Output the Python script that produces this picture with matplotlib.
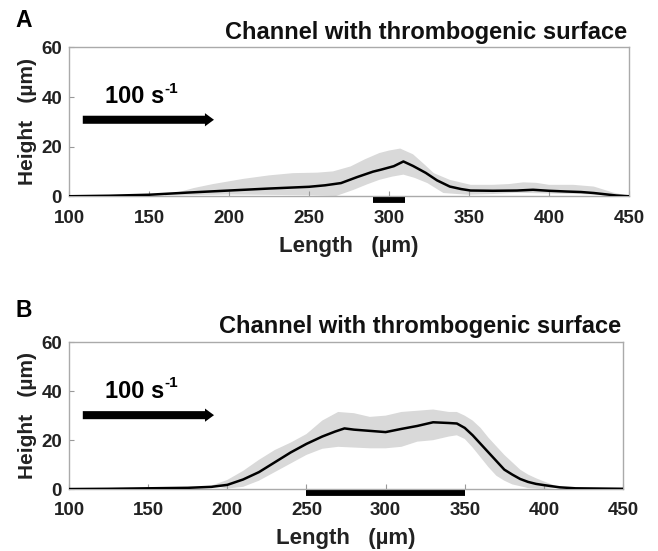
import numpy as np
import matplotlib
matplotlib.use('Agg')
import matplotlib.pyplot as plt
from matplotlib.patches import FancyArrowPatch

plt.rcParams['font.family'] = ['Liberation Sans', 'DejaVu Sans']
plt.rcParams['font.weight'] = 'bold'

# Panel A - mean height profile and spread band
a_x = [100, 125, 150, 175, 200, 225, 250, 260, 270, 280, 290, 295, 303, 309, 315,
       323, 330, 338, 345, 351, 365, 380, 390, 400, 411, 420, 428, 442, 450]
a_y = [0.1, 0.3, 0.7, 1.6, 2.4, 3.2, 3.9, 4.5, 5.4, 7.8, 10.0, 10.8, 12.2, 14.1, 12.3,
       9.5, 6.5, 4.0, 3.0, 2.4, 2.3, 2.4, 2.7, 2.3, 2.0, 1.8, 1.4, 0.4, 0.1]
a_up_x = [160, 170, 178, 190, 209, 225, 240, 255, 265, 276, 285, 294, 300, 307, 315,
          322, 328, 338, 351, 365, 375, 384, 392, 400, 415, 428, 440, 450]
a_up_y = [0.8, 2.0, 3.4, 5.0, 7.1, 8.5, 9.4, 9.6, 10.1, 12.1, 15.0, 17.5, 18.5, 19.3, 17.0,
          13.0, 9.4, 6.7, 4.7, 4.7, 5.0, 5.7, 5.5, 4.7, 4.7, 4.0, 1.6, 0.2]
a_lo_x = [160, 200, 250, 267, 278, 286, 294, 302, 309, 316, 324, 334, 349, 365, 380,
          400, 420, 440, 450]
a_lo_y = [0.4, 0.8, 0.5, 0.2, 2.7, 4.8, 6.7, 8.0, 8.8, 7.5, 5.4, 1.4, 0.7, 1.0, 1.5,
          1.2, 1.0, 0.2, 0.0]
a_bar = [290, 310]

# Panel B
b_x = [100, 125, 150, 175, 190, 200, 210, 220, 230, 240, 250, 260, 268, 274, 280, 290,
       300, 310, 320, 330, 340, 345, 350, 355, 360, 365, 370, 375, 380, 385, 390, 395,
       400, 410, 420, 435, 450]
b_y = [0.1, 0.2, 0.4, 0.6, 1.0, 1.8, 4.0, 7.0, 11.0, 15.0, 18.5, 21.5, 23.5, 24.8, 24.3, 23.8,
       23.3, 24.6, 25.8, 27.3, 27.0, 26.8, 25.0, 22.0, 18.5, 15.0, 11.5, 8.0, 6.0, 4.2, 3.0, 2.2,
       1.7, 0.8, 0.4, 0.3, 0.2]
b_up_x = [190, 200, 210, 220, 230, 240, 250, 260, 270, 280, 290, 300, 310, 320, 330, 340,
          345, 350, 355, 360, 365, 370, 375, 380, 385, 390, 395, 400, 410]
b_up_y = [1.5, 3.8, 7.5, 12.0, 16.0, 19.0, 22.5, 28.0, 31.5, 31.0, 29.5, 30.0, 31.5, 32.0, 32.5, 31.5,
          31.5, 30.0, 28.0, 25.0, 21.0, 17.5, 14.0, 11.0, 8.0, 6.0, 4.5, 3.2, 0.8]
b_lo_x = [200, 210, 220, 230, 240, 250, 260, 270, 280, 290, 300, 310, 320, 330, 340, 345,
          350, 355, 360, 365, 370, 375, 380, 390, 400]
b_lo_y = [0.3, 1.0, 3.5, 7.0, 10.5, 14.0, 16.5, 17.3, 17.0, 16.7, 16.7, 17.3, 19.4, 20.0, 21.5, 22.0,
          20.5, 17.0, 13.0, 9.0, 5.5, 3.5, 2.0, 0.5, 0.1]
b_bar = [250, 350]

x_ticks = [100, 150, 200, 250, 300, 350, 400, 450]
y_ticks = [0, 20, 40, 60]
title = 'Channel with thrombogenic surface'

panels = [
    dict(rect=[0.1049, 0.6434, 0.851, 0.2704], tag='A', tag_y=0.951, title_y=1.057,
         x=a_x, y=a_y, ux=a_up_x, uy=a_up_y, lx=a_lo_x, ly=a_lo_y, bar=a_bar,
         arrow=(108.6, 190.6, 30.9), txt=(122.5, 40.2), ylab_x=-0.057),
    dict(rect=[0.1049, 0.1120, 0.842, 0.2673], tag='B', tag_y=0.4241, title_y=1.062,
         x=b_x, y=b_y, ux=b_up_x, uy=b_up_y, lx=b_lo_x, ly=b_lo_y, bar=b_bar,
         arrow=(108.7, 191.6, 30.2), txt=(122.7, 40.0), ylab_x=-0.058),
]

fig = plt.figure(figsize=(6.58, 5.51), dpi=100)

for p in panels:
    ax = fig.add_axes(p['rect'])
    # spread band as polygon: upper edge then lower edge reversed
    ax.fill(np.r_[p['ux'], p['lx'][::-1]], np.r_[p['uy'], p['ly'][::-1]],
            color='#d9d9d9', lw=0, zorder=1)
    ax.plot(p['x'], p['y'], color='black', lw=1.8, zorder=3)

    ax.set_xlim(100, 450)
    ax.set_ylim(0, 60)
    ax.set_xticks(x_ticks)
    ax.set_yticks(y_ticks)
    ax.tick_params(direction='in', length=3.5, width=0.8, color='#999999',
                   labelsize=13.5, labelcolor='#222222')
    ax.tick_params(axis='x', pad=9.5)
    ax.tick_params(axis='y', pad=5)
    for s in ax.spines.values():
        s.set_color('#aaaaaa')
        s.set_linewidth(1.0)

    ax.set_xlabel('Length   (µm)', fontsize=16, fontweight='bold', color='#222222')
    ax.xaxis.set_label_coords(0.5, -0.266)
    ax.set_ylabel('Height   (µm)', fontsize=15, fontweight='bold', color='#222222')
    ax.yaxis.set_label_coords(p['ylab_x'], 0.5)

    ax.text(0.997, p['title_y'], title, transform=ax.transAxes, ha='right',
            va='baseline', fontsize=17, fontweight='bold', color='#111111')
    fig.text(0.0228, p['tag_y'], p['tag'], ha='left', va='baseline',
             fontsize=16.5, fontweight='bold', color='black')

    # shear-rate arrow
    x0, x1, ya = p['arrow']
    arr = FancyArrowPatch((x0, ya), (x1, ya), shrinkA=0, shrinkB=0,
                          arrowstyle='Simple,tail_width=0.58,head_width=0.95,head_length=0.65',
                          mutation_scale=10, color='black', lw=0, zorder=4)
    ax.add_patch(arr)
    t = ax.text(p['txt'][0], p['txt'][1], '100 s', ha='left', va='center',
                fontsize=17, fontweight='bold', color='black')
    ax.annotate('-1', xy=(1.0, 0.55), xycoords=t, ha='left', va='bottom',
                fontsize=11, fontweight='bold', color='black')

    # region marker below the axis
    ax.plot(p['bar'], [-1.45, -1.45], color='black', lw=4.2, solid_capstyle='butt',
            clip_on=False, zorder=5)

fig.savefig('out.png', dpi=100)
